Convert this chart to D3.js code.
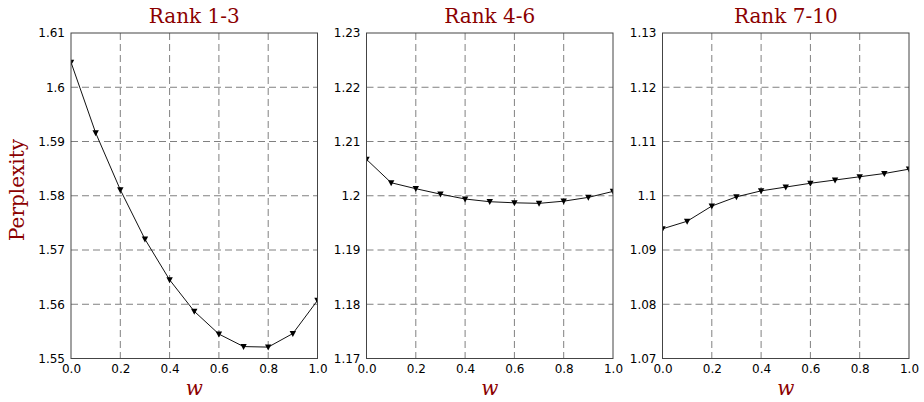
<!DOCTYPE html>
<html>
<head>
<meta charset="utf-8">
<script src="https://cdn.jsdelivr.net/npm/d3@7"></script>
<style>
body { margin: 0; background: #fff; }
svg { display: block; }
.tick text { font-family: "DejaVu Sans", sans-serif; font-size: 12px; fill: #000; }
</style>
</head>
<body>
<svg id="chart" width="924" height="402"></svg>
<script>
// w values shared by all three panels
var wValues = [0.0, 0.1, 0.2, 0.3, 0.4, 0.5, 0.6, 0.7, 0.8, 0.9, 1.0];
var xTicks = [0.0, 0.2, 0.4, 0.6, 0.8, 1.0];

var titles = ["Rank 1-3", "Rank 4-6", "Rank 7-10"];

// perplexity
var rank1to3 = [1.6046, 1.5916, 1.5811, 1.5720, 1.5645, 1.5587, 1.5545, 1.5522, 1.5521, 1.5546, 1.5607];
var rank4to6 = [1.2067, 1.2024, 1.2013, 1.2003, 1.1994, 1.1989, 1.1987, 1.1986, 1.1990, 1.1997, 1.2008];
var rank7to10 = [1.0939, 1.0953, 1.0981, 1.0998, 1.1009, 1.1016, 1.1023, 1.1029, 1.1035, 1.1041, 1.1049];

var yDomains = [[1.55, 1.61], [1.17, 1.23], [1.07, 1.13]];
var yTicks = [
    [1.55, 1.56, 1.57, 1.58, 1.59, 1.60, 1.61],
    [1.17, 1.18, 1.19, 1.20, 1.21, 1.22, 1.23],
    [1.07, 1.08, 1.09, 1.10, 1.11, 1.12, 1.13]
];
var series = [rank1to3, rank4to6, rank7to10];

var red = "#8b0000";
var panelLeft = [71, 366.5, 662.5];
var panelW = 246.5;
var plotTop = 33, plotBottom = 358.5;

var svg = d3.select("#chart");

function yFmt(d) {
    // matplotlib style: drop trailing zeros but keep one digit
    var s = d3.format(".2f")(d);
    if (s.slice(-1) == "0") s = s.slice(0, -1);
    return s;
}

titles.forEach(function(title, i) {
    var h = plotBottom - plotTop;
    var x = d3.scaleLinear().domain([0, 1]).range([0, panelW]);
    var y = d3.scaleLinear().domain(yDomains[i]).range([h, 0]);

    var g = svg.append("g").attr("transform", "translate(" + panelLeft[i] + "," + plotTop + ")");

    g.append("clipPath").attr("id", "clip" + i)
        .append("rect").attr("width", panelW).attr("height", h);

    // dashed grid
    g.append("g").selectAll("line")
        .data(xTicks.slice(1, -1))
        .enter().append("line")
        .attr("x1", function(d) { return x(d); })
        .attr("x2", function(d) { return x(d); })
        .attr("y1", 0).attr("y2", h)
        .attr("stroke", "#808080").attr("stroke-width", 1)
        .attr("stroke-dasharray", "7,4");
    g.append("g").selectAll("line")
        .data(yTicks[i].slice(1, -1))
        .enter().append("line")
        .attr("x1", 0).attr("x2", panelW)
        .attr("y1", function(d) { return y(d); })
        .attr("y2", function(d) { return y(d); })
        .attr("stroke", "#808080").attr("stroke-width", 1)
        .attr("stroke-dasharray", "7,4");

    // axes
    var xAxis = d3.axisBottom(x).tickValues(xTicks).tickFormat(d3.format(".1f")).tickSize(0).tickPadding(6);
    var yAxis = d3.axisLeft(y).tickValues(yTicks[i]).tickFormat(yFmt).tickSize(0).tickPadding(6);
    var gx = g.append("g").attr("transform", "translate(0," + h + ")").call(xAxis);
    var gy = g.append("g").call(yAxis);
    gx.select(".domain").remove();
    gy.select(".domain").remove();

    // line + markers
    var pts = wValues.map(function(w, k) { return [w, series[i][k]]; });
    var plot = g.append("g").attr("clip-path", "url(#clip" + i + ")");
    plot.append("path")
        .datum(pts)
        .attr("fill", "none")
        .attr("stroke", "#111")
        .attr("stroke-width", 1)
        .attr("d", d3.line().x(function(d) { return x(d[0]); }).y(function(d) { return y(d[1]); }));
    plot.selectAll("path.mk")
        .data(pts)
        .enter().append("path")
        .attr("class", "mk")
        .attr("d", "M-3.2,-2.6L3.2,-2.6L0,3.4Z")
        .attr("fill", "#000")
        .attr("transform", function(d) { return "translate(" + x(d[0]) + "," + y(d[1]) + ")"; });

    // frame
    g.append("rect")
        .attr("width", panelW).attr("height", h)
        .attr("fill", "none").attr("stroke", "#444").attr("stroke-width", 1);

    // title and x label
    g.append("text")
        .attr("x", panelW / 2).attr("y", 22.7 - plotTop)
        .attr("text-anchor", "middle")
        .attr("font-family", "DejaVu Serif, serif")
        .attr("font-size", 20)
        .attr("fill", red)
        .text(title);
    g.append("text")
        .attr("x", panelW / 2).attr("y", 395 - plotTop)
        .attr("text-anchor", "middle")
        .attr("font-family", "DejaVu Serif, serif")
        .attr("font-style", "italic")
        .attr("font-size", 20)
        .attr("fill", red)
        .text("w");
});

svg.append("text")
    .attr("transform", "translate(24,190) rotate(-90)")
    .attr("text-anchor", "middle")
    .attr("font-family", "DejaVu Serif, serif")
    .attr("font-size", 20)
    .attr("fill", red)
    .text("Perplexity");
</script>
</body>
</html>
